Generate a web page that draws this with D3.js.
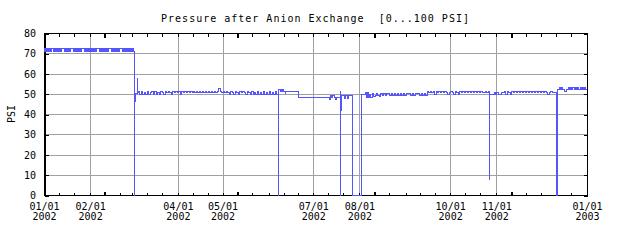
<!DOCTYPE html>
<html>
<head>
<meta charset="utf-8">
<script src="https://cdn.jsdelivr.net/npm/d3@7"></script>
<style>
  body { margin: 0; background: #fff; }
  text { font-family: "DejaVu Sans Mono", monospace; font-size: 10px; fill: #000; }
</style>
</head>
<body>
<svg id="chart" width="640" height="240"></svg>
<script>
const title = "Pressure after Anion Exchange  [0...100 PSI]";
const yLabel = "PSI";
const yTicks = [0, 10, 20, 30, 40, 50, 60, 70, 80];
const labelDates = ["2002-01-01", "2002-02-01", "2002-04-01", "2002-05-01", "2002-07-01",
                    "2002-08-01", "2002-10-01", "2002-11-01", "2003-01-01"];
const boldTickDates = ["2002-02-11", "2002-05-11", "2002-08-11", "2002-11-11"];

// regular samples: first day of year 2002, days between samples, psi values
const janFebStart = 0, janFebStep = 0.5;
const janFebPsi = [
  72.4,70.8,72.4,70.8,72.4,70.8,72.4,70.8,72.4,70.8, 72.4,72.4,72.4,70.8,72.4,70.8,72.4,70.8,72.4,70.8,
  72.4,70.8,72.4,70.8,72.4,72.4,72.4,72.4,70.8,72.4, 70.8,72.4,70.8,72.4,70.8,72.4,72.4,72.4,72.4,70.8,
  72.4,70.8,72.4,70.8,72.4,70.8,72.4,70.8,72.4,70.8, 72.4,72.4,72.4,72.4,72.4,70.8,72.4,70.8,72.4,70.8,
  72.4,70.8,72.4,70.8,72.4,70.8,72.4,70.8,72.4,70.8, 72.4,72.4,72.4,72.4,70.8,72.4,70.8,72.4,70.8,72.4,
  70.8,72.4,70.8,72.4,70.8,72.4,70.8,72.4,72.4,72.4, 72.4,70.8,72.4,70.8,72.4,70.8,72.4,70.8,72.4,70.8,
  72.4,70.8,72.4,72.4,72.4,72.4,70.8,72.4,70.8,72.4, 70.8,72.4,70.8,72.4,70.8,72.4,70.8,72.4,70.8,72.4,
  70.8];
const marJunStart = 63.5, marJunStep = 1;
const marJunPsi = [
  51.0,49.5,51.0,49.5,50.4,49.5,51.0,49.5,50.4,51.0, 49.5,51.0,49.5,50.4,49.5,51.0,50.4,49.5,51.0,50.4,
  51.0,50.4,49.5,51.0,50.4,51.0,50.4,51.0,49.5,51.0, 50.4,51.0,50.4,51.0,50.4,51.0,50.4,51.0,50.4,51.0,
  50.4,51.0,50.4,51.0,50.4,51.0,50.4,51.0,50.4,51.0, 50.4,51.0,50.4,51.0,52.5,51.0,50.4,51.0,50.4,51.0,
  50.4,49.5,51.0,50.4,49.5,51.0,50.4,49.5,51.0,50.4, 51.0,50.4,49.5,51.0,50.4,49.5,51.0,49.5,50.4,49.5,
  51.0,49.5,50.4,49.5,51.0,49.5,50.4,49.5,51.0,49.5, 50.4,49.5,51.0,49.5];
const augOctStart = 222.5, augOctStep = 1;
const augOctPsi = [
  49.2,49.9,49.2,48.4,49.9,49.2,49.9,49.2,49.9,49.9, 49.2,49.9,49.2,49.9,49.2,49.9,49.2,49.9,49.2,49.9,
  49.2,49.9,49.9,49.9,49.2,49.9,49.2,49.9,49.9,49.9, 49.2,49.9,49.2,49.9,49.2,51.3,50.5,51.3,50.5,51.3,
  49.5,51.3,50.5,51.3,50.5,51.3,50.5,51.3,50.5,49.5, 50.5,51.3,50.5,49.5,51.3,50.5,49.5,51.3,50.5,51.3,
  50.5,51.3,50.5,51.3,50.5,51.3,50.5,51.3,50.5,51.3, 50.5,51.3,50.5,50.5,51.3,50.5,51.3];
const novDecStart = 300.5, novDecStep = 1;
const novDecPsi = [
  49.4,49.4,50.6,49.4,50.6,49.4,49.4,50.6,50.4,51.1, 49.5,51.1,50.4,49.5,51.1,50.4,51.1,50.4,51.1,50.4,
  51.1,50.4,51.1,50.4,51.1,50.4,51.1,50.4,51.1,50.4, 51.1,50.4,51.1,50.4,51.1,50.4,51.1,50.4,49.5,50.4,
  51.1,50.4];

// irregular readings: [day of year 2002, psi]
const marchDrop = [[60.6,0],[61,46],[61.5,50.2],[62.6,57.3],[63,50.8]];
const junAug = [[157.5,0],[157.8,52.2],[158.8,51.2],[159.7,52.2],[160.2,51.2],[160.8,52.2],[161.3,51.2],
  [162,50],[162.5,51.2],[170.9,48.3],[191.8,47.3],[192.6,49.2],[193.3,48.3],[194,49.2],[195,48.3],
  [196,47.3],[196.8,48.3],[199,51.2],[199.3,0],[199.6,41.5],[199.9,49.2],[202.3,47.9],[202.7,49.2],
  [204.2,47.9],[204.6,49.2],[207.2,0],[213.6,49.5],[215.8,50.4],[216.5,48.2],[217.3,50.4],[218,48.2],
  [218.8,49.8],[219.6,48.2],[220.5,50.2],[221.3,48.6]];
const octoberDrop = [[299.32,7.7],[299.63,49.4]];
const decemberDrop = [[344.3,0],[344.7,50.4],[345.1,0]];
const december = [[345.4,52.3],[346.2,53.2],[347,52.3],[347.8,53.2],[348.6,52.3],[349.7,51],[351.5,52.3],
  [352.3,53.2],[353.1,52.3],[353.9,53.2],[354.7,52.3],[355.5,53.2],[356.3,52.3],[357.1,53.2],[357.9,52.3],
  [358.7,53.2],[359.5,52.3],[360.3,53.2],[361.1,52.3],[361.9,53.2],[362.7,52.3],[363.5,53.2],[364.3,52.3],
  [365,52.3]];

const sampled = (start, step, values) => values.map((v, i) => [start + i * step, v]);
const readings = [].concat(
  sampled(janFebStart, janFebStep, janFebPsi), marchDrop,
  sampled(marJunStart, marJunStep, marJunPsi), junAug,
  sampled(augOctStart, augOctStep, augOctPsi), octoberDrop,
  sampled(novDecStart, novDecStep, novDecPsi), decemberDrop, december);

const t0 = Date.UTC(2002, 0, 1);
const toDate = day => new Date(t0 + day * 864e5);
const parse = d3.utcParse("%Y-%m-%d");

const svg = d3.select("#chart");
const x = d3.scaleUtc().domain([parse("2002-01-01"), parse("2003-01-01")]).range([44, 587]);
const y = d3.scaleLinear().domain([0, 80]).range([195, 33]);
const crisp = v => Math.round(v) + 0.5;

// grid
const grid = svg.append("g").attr("stroke", "#a0a0a0").attr("shape-rendering", "crispEdges");
grid.selectAll(".vg").data(labelDates.slice(1, -1)).join("line")
  .attr("x1", d => crisp(x(parse(d)))).attr("x2", d => crisp(x(parse(d))))
  .attr("y1", y(80)).attr("y2", y(0));
grid.selectAll(".hg").data(yTicks.slice(1, -1)).join("line")
  .attr("x1", x.range()[0]).attr("x2", x.range()[1])
  .attr("y1", d => crisp(y(d))).attr("y2", d => crisp(y(d)));

// small ticks on 1st, 11th, 21st of each month
const minorTicks = [];
d3.utcMonth.range(parse("2002-01-01"), parse("2003-01-01")).forEach(m => {
  [0, 10, 20].forEach(o => minorTicks.push(d3.utcDay.offset(m, o)));
});
const bold = boldTickDates.map(parse);

function tickAxis(axis, tx, ty, values, size, width) {
  svg.append("g").attr("transform", `translate(${tx},${ty})`)
    .attr("shape-rendering", "crispEdges")
    .call(axis.tickValues(values).tickSize(size).tickFormat(""))
    .call(g => g.select(".domain").remove())
    .call(g => g.selectAll("line").attr("stroke", "#000").attr("stroke-width", width));
}
tickAxis(d3.axisTop(x), 0, 195.5, minorTicks, 3, 1);
tickAxis(d3.axisBottom(x), 0, 33.5, minorTicks, 3, 1);
tickAxis(d3.axisTop(x), 0, 195.5, bold, 4, 2);
tickAxis(d3.axisBottom(x), 0, 33.5, bold, 4, 2);
tickAxis(d3.axisRight(y), 45, 0.5, yTicks, 4, 1);
tickAxis(d3.axisLeft(y), 587.5, 0.5, yTicks, 4, 1);

// frame
const frame = svg.append("g").attr("stroke", "#000").attr("shape-rendering", "crispEdges");
frame.append("line").attr("x1", 45).attr("x2", 45).attr("y1", 33).attr("y2", 196).attr("stroke-width", 2);
frame.append("line").attr("x1", 587.5).attr("x2", 587.5).attr("y1", 33).attr("y2", 196);
frame.append("line").attr("x1", 44).attr("x2", 588).attr("y1", 33.5).attr("y2", 33.5);
frame.append("line").attr("x1", 44).attr("x2", 588).attr("y1", 195.5).attr("y2", 195.5);

// y labels
svg.append("g").attr("transform", "translate(45,0)")
  .call(d3.axisLeft(y).tickValues(yTicks).tickSize(0).tickPadding(9))
  .call(g => g.select(".domain").remove())
  .call(g => g.selectAll("text").attr("font-family", null).attr("font-size", null).attr("dy", "0.35em"));

// x labels (two lines)
[[d3.utcFormat("%m/%d"), 7.4], [d3.utcFormat("%Y"), 17.9]].forEach(([fmt, pad]) => {
  svg.append("g").attr("transform", "translate(0,195)")
    .call(d3.axisBottom(x).tickValues(labelDates.map(parse)).tickSize(0).tickPadding(pad).tickFormat(fmt))
    .call(g => g.select(".domain").remove())
    .call(g => g.selectAll("text").attr("font-family", null).attr("font-size", null));
});

// data
const line = d3.line()
  .x(d => x(toDate(d[0])))
  .y(d => y(d[1]))
  .curve(d3.curveStepAfter);
svg.append("path")
  .datum(readings)
  .attr("fill", "none")
  .attr("stroke", "#5555ff")
  .attr("stroke-width", 1)
  .attr("shape-rendering", "crispEdges")
  .attr("d", line);

// title and y label
svg.append("text")
  .attr("x", (x.range()[0] + x.range()[1]) / 2)
  .attr("y", 22)
  .attr("text-anchor", "middle")
  .attr("letter-spacing", 1)
  .style("white-space", "pre")
  .text(title);
svg.append("text")
  .attr("transform", `translate(15,${(y(0) + y(80)) / 2}) rotate(-90)`)
  .attr("text-anchor", "middle")
  .text(yLabel);
</script>
</body>
</html>
